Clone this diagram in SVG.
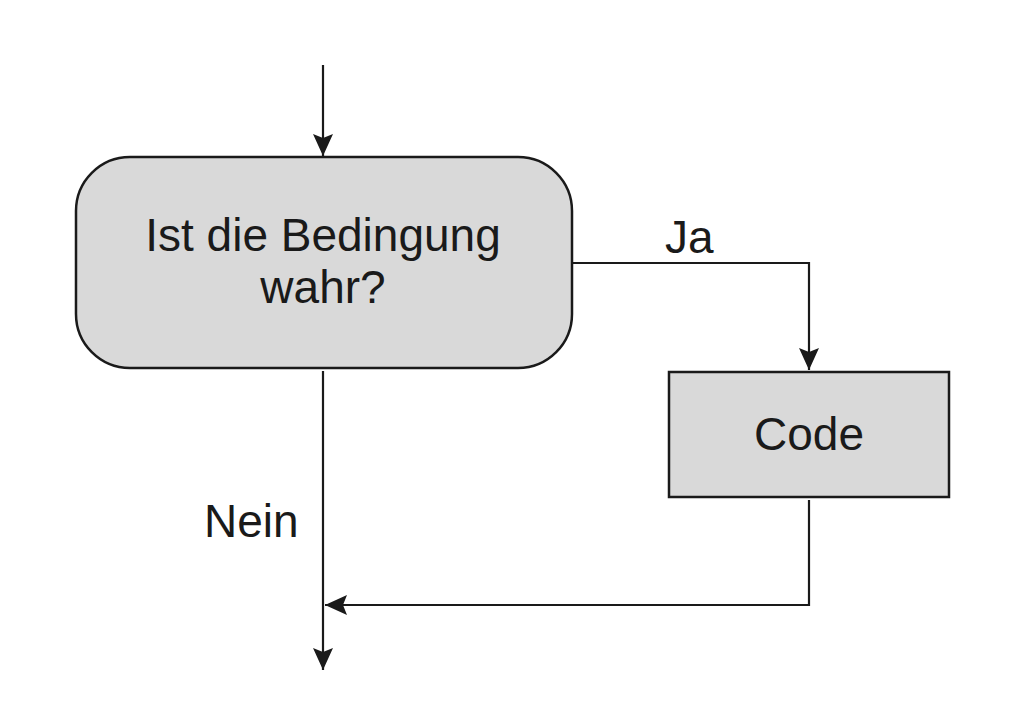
<svg xmlns="http://www.w3.org/2000/svg" width="1020" height="728" viewBox="0 0 1020 728">
<style>
.box{fill:#d9d9d9;stroke:#1a1a1a;stroke-width:2.5}
.line{fill:none;stroke:#1a1a1a;stroke-width:2.2}
.t{font-family:"Liberation Sans",Arial,sans-serif;font-size:46px;fill:#1a1a1a}
</style>
<defs>
<marker id="ah" viewBox="0 0 22 20" refX="22" refY="10" markerWidth="22" markerHeight="20" markerUnits="userSpaceOnUse" orient="auto">
<path d="M0,0 L22,10 L0,20 L4,10 Z" fill="#1a1a1a"/>
</marker>
</defs>
<rect width="1020" height="728" fill="#ffffff"/>
<g id="connectors">
<path class="line" d="M323,65 V156" marker-end="url(#ah)"/>
<path class="line" d="M572,263 H809 V370" marker-end="url(#ah)"/>
<path class="line" d="M809,500 V605 H325" marker-end="url(#ah)"/>
<path class="line" d="M323,371 V670" marker-end="url(#ah)"/>
</g>
<g id="cond">
<rect class="box" x="76" y="157" width="496" height="211" rx="54" ry="54"/>
<text class="t" text-anchor="middle"><tspan x="323" y="251">Ist die Bedingung</tspan><tspan x="323" y="303">wahr?</tspan></text>
</g>
<g id="code">
<rect class="box" x="669" y="372" width="280" height="125"/>
<text class="t" x="809" y="450" text-anchor="middle">Code</text>
</g>
<g id="label-ja"><text class="t" x="665" y="253">Ja</text></g>
<g id="label-nein"><text class="t" x="204" y="537">Nein</text></g>
</svg>
